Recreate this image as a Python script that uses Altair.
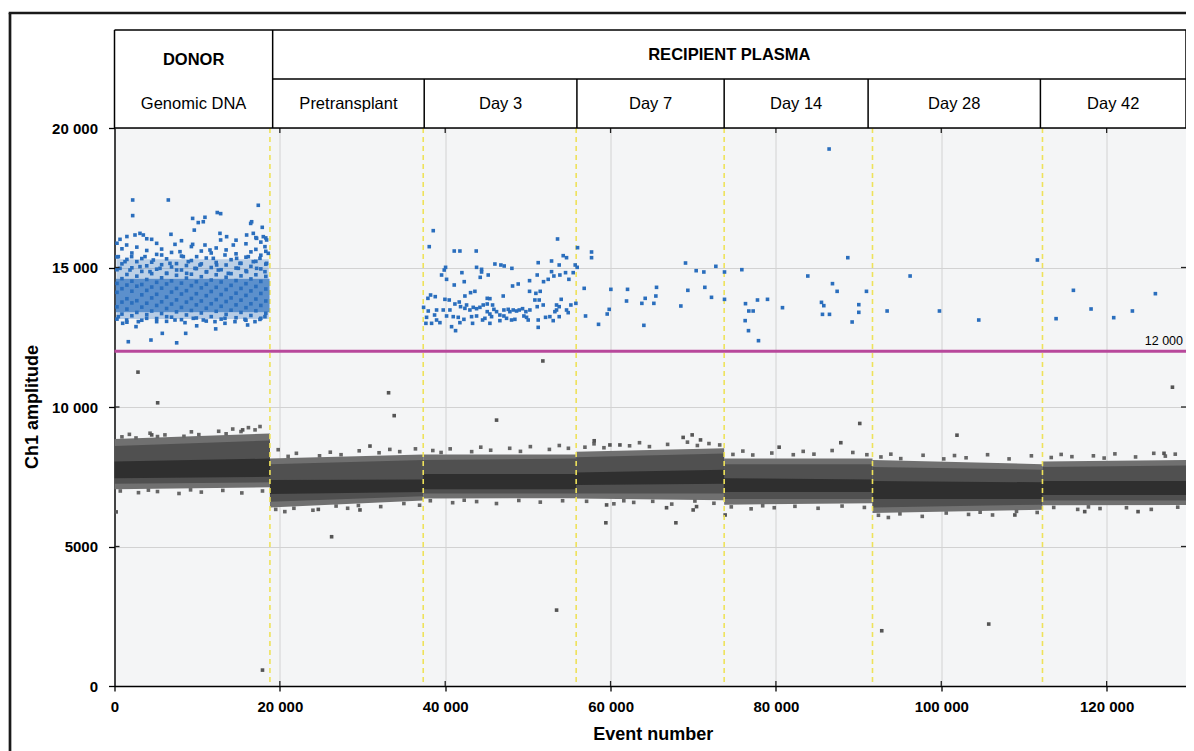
import altair as alt
import pandas as pd

FONT = "Liberation Sans"
W, H = 1071.5, 558
X_MAX = 129600

x_ticks = [0, 20000, 40000, 60000, 80000, 100000, 120000]
y_ticks = [0, 5000, 10000, 15000, 20000]

segment_names = ["Donor", "Pretransplant", "Day 3", "Day 7", "Day 14", "Day 28", "Day 42"]
segment_edges = [0, 18800, 37340, 55840, 73740, 91680, 112240, X_MAX]
header_edges = [0, 19130, 37460, 55930, 73740, 91150, 111990, X_MAX]
header_sub = ["Genomic DNA", "Pretransplant", "Day 3", "Day 7", "Day 14", "Day 28", "Day 42"]
header_top = ["DONOR", "RECIPIENT PLASMA"]

# negative-droplet band, per segment (value at segment start, value at segment end)
outer_lo = [(7050, 7120), (6400, 6650), (6720, 6730), (6720, 6660), (6500, 6550), (6200, 6320), (6480, 6490)]
mid_lo = [(7250, 7300), (6600, 6800), (6900, 6900), (6900, 6900), (6700, 6700), (6400, 6500), (6650, 6650)]
core_lo = [(7450, 7500), (6880, 6950), (7050, 7050), (7200, 7250), (6950, 6950), (6700, 6700), (6850, 6850)]
core_hi = [(8050, 8150), (7380, 7400), (7600, 7600), (7650, 7750), (7450, 7400), (7350, 7300), (7350, 7350)]
mid_hi = [(8600, 8800), (7950, 8100), (8100, 8150), (8200, 8330), (7950, 7950), (7850, 7750), (7850, 7900)]
outer_hi = [(8850, 9050), (8150, 8300), (8300, 8300), (8400, 8520), (8150, 8150), (8100, 7950), (8050, 8100)]

# ragged edge droplets just outside the band
edge_pts = [(900, 8930), (1800, 9020), (2600, 8890), (4300, 9060), (5200, 8940), (6100, 9000), (8400, 8950),
            (9300, 9110), (10200, 9010), (12600, 9130), (13500, 9040), (14300, 9210), (15300, 9120),
            (16200, 9260), (17000, 9180), (17600, 9300), (700, 6990), (2900, 6930), (4100, 7020),
            (5200, 6970), (7800, 6900), (9200, 7030), (10500, 6950), (13100, 7010), (15400, 6920),
            (17900, 6990),
            (19800, 8470), (21000, 8230), (22000, 8340), (24800, 8250), (26100, 8380), (27400, 8290),
            (29600, 8430), (32000, 8360), (33300, 8480), (34500, 8400), (36400, 8500), (19500, 6330),
            (20600, 6250), (21700, 6370), (24000, 6300), (26800, 6450), (28200, 6370), (29500, 6470),
            (32200, 6430), (35000, 6540), (36900, 6480),
            (38500, 8440), (39500, 8370), (40600, 8500), (43200, 8400), (44300, 8560), (45500, 8450),
            (47800, 8520), (49100, 8410), (50300, 8580), (52600, 8480), (53800, 8620), (54900, 8520),
            (38200, 6640), (40900, 6570), (42300, 6660), (43800, 6610), (46200, 6540), (48900, 6650),
            (51500, 6590), (54200, 6640),
            (56900, 8560), (58000, 8680), (59200, 8540), (62300, 8610), (63500, 8720), (64700, 8580),
            (66900, 8660), (69300, 8740), (70500, 8620), (71900, 8690), (73200, 8640), (57100, 6620),
            (60400, 6530), (61600, 6640), (62800, 6580), (65100, 6620), (67400, 6520), (70200, 6630),
            (72500, 6550),
            (74800, 8300), (76000, 8420), (77200, 8280), (79500, 8350), (82100, 8290), (83300, 8410),
            (84600, 8310), (86800, 8440), (89300, 8370), (91000, 8290), (74600, 6420), (77000, 6350),
            (78400, 6460), (79800, 6390), (82300, 6440), (85100, 6370), (88000, 6450), (90700, 6400),
            (92700, 8210), (93900, 8310), (95100, 8150), (97800, 8270), (100300, 8140), (101600, 8260),
            (103000, 8180), (105600, 8290), (108200, 8140), (110900, 8250), (92400, 6120), (93600, 6040),
            (95000, 6170), (97700, 6080), (100600, 6200), (103300, 6150), (104700, 6230), (106200, 6130),
            (109100, 6260), (111600, 6220),
            (113300, 8190), (114500, 8300), (115800, 8220), (118400, 8250), (119700, 8170), (121000, 8320),
            (123500, 8210), (125700, 8340), (127100, 8240), (128300, 8310), (113600, 6400), (116500, 6330),
            (117800, 6420), (119200, 6360), (122400, 6390), (125400, 6330), (128600, 6410)]

gray_pts = [(200, 6240), (5220, 10150), (2840, 11250), (33150, 10510), (33830, 9690), (30900, 8600),
            (26260, 5350), (46210, 9530), (51810, 11650), (59430, 5850), (67900, 5850), (90140, 9410),
            (101900, 8990), (127960, 10710), (53470, 2720), (17900, 570), (92800, 1980), (105740, 2220),
            (66770, 6390), (69990, 6310), (70400, 6430), (59520, 6490), (68780, 8910), (69870, 9000),
            (70880, 8820), (58020, 8790), (59920, 8640), (61130, 8640), (80390, 8560), (87850, 8720),
            (73860, 6130), (24650, 6330), (29690, 6310), (15500, 9180), (4500, 9000), (126940, 8340),
            (108900, 6130), (123800, 6250), (117350, 6250)]

# donor positive droplets: dense core / halo extents (x0, x1, lo, hi, opacity) and droplets
donor_core = [(150, 18750, 13400, 14600, 0.75), (250, 18650, 14600, 15300, 0.28),
              (250, 18650, 13150, 13400, 0.3)]
donor_columns = {
    300: [13150, 13590, 14110, 14430, 14920, 15380, 15870],
    900: [13330, 13760, 14240, 14600, 15130, 15670],
    1500: [13040, 13510, 13880, 14370, 14750, 15290, 16110],
    2100: [13270, 13730, 14150, 14510, 14990, 15520],
    2700: [13390, 13810, 14330, 14690, 15210, 15730],
    3300: [13110, 13580, 14020, 14390, 14860, 15320],
    3900: [13310, 13720, 14180, 14570, 15060, 15610, 16030],
    4500: [13440, 13910, 14300, 14780, 15190],
    5100: [13170, 13640, 14040, 14470, 14940, 15470],
    5700: [13350, 13770, 14260, 14630, 15100, 15660],
    6300: [13070, 13530, 13940, 14410, 14790, 15310],
    6900: [13220, 13690, 14120, 14520, 15020, 15540],
    7500: [13410, 13840, 14250, 14720, 15140],
    8100: [13130, 13570, 14050, 14440, 14910, 15410, 15960],
    8700: [13300, 13760, 14170, 14620, 15070],
    9300: [13460, 13890, 14350, 14760, 15250, 15750],
    9900: [13190, 13660, 14060, 14490, 14960],
    10500: [13370, 13800, 14270, 14670, 15130, 15590],
    11100: [13080, 13540, 13990, 14400, 14840, 15340],
    11700: [13240, 13700, 14140, 14550, 15000, 15520],
    12300: [13430, 13850, 14290, 14740, 15180, 15700],
    12900: [13150, 13610, 14030, 14480, 14920],
    13500: [13320, 13780, 14210, 14650, 15090, 15630],
    14100: [13470, 13910, 14360, 14780, 15280],
    14700: [13200, 13660, 14080, 14530, 14980, 15490, 15980],
    15300: [13390, 13830, 14250, 14700, 15150],
    15900: [13110, 13560, 14000, 14420, 14880, 15370, 15850],
    16500: [13280, 13700, 14160, 14590, 15040, 15560],
    17100: [13450, 13870, 14320, 14740, 15220, 15650, 16070],
    17700: [13180, 13640, 14070, 14500, 14950, 15440, 15910],
    18300: [13360, 13800, 14230, 14680, 15120, 15580, 16060],
}
donor_pts = [(2200, 17420), (6510, 17420), (2200, 16860), (17390, 17230), (12430, 16970), (12840, 16930),
             (9450, 16760), (10130, 16610), (10940, 16800), (10740, 16640), (16590, 16640), (16470, 16580),
             (17870, 16440), (6830, 16190), (9650, 16340),
             (1670, 12340), (4410, 12400), (7520, 12300), (5780, 12640), (8610, 12640), (12240, 12800),
             (9940, 12910), (13360, 13000), (16100, 12940), (17590, 13140), (2600, 12880), (990, 13000),
             (665, 16010), (1471, 15806), (2479, 16165), (3083, 16224), (3486, 16165), (4494, 16010),
             (5099, 15866), (7316, 15830), (7920, 15567), (9452, 15830), (10943, 15806), (11548, 15627),
             (12757, 16224), (12838, 15986), (13563, 16105), (14369, 15806), (15982, 16165), (16787, 16224),
             (17191, 16045), (17997, 16105), (18400, 15986), (18198, 15747), (18601, 15508),
             (463, 15389), (1270, 15209), (2076, 15389), (3688, 15389), (4695, 15269), (5704, 15448),
             (6711, 15149), (8323, 15389), (8928, 15209), (9935, 15389), (10339, 15090), (11951, 15329),
             (12354, 15090), (13362, 15448), (14772, 15329), (15175, 15149), (16183, 15389), (16787, 15209),
             (17594, 15329), (18400, 15149), (665, 14970), (1874, 14910), (3083, 15030), (4293, 14851),
             (5502, 14970), (6308, 14791), (7517, 14910), (8727, 14791), (9734, 14970), (11145, 14851),
             (12555, 14910), (13764, 14791), (14974, 14970), (15982, 14851), (17191, 14970), (18198, 14851),
             (463, 13238), (1471, 13118), (2882, 13059), (3890, 13178), (5099, 13059), (6308, 13238),
             (7316, 13118), (8525, 13023), (9532, 13178), (10742, 13118), (12152, 13059), (13362, 13178),
             (14571, 13059), (15780, 13142), (16989, 13059), (18198, 13238)]

day3_pts = [(38553, 16320), (38069, 15747), (41092, 15591), (41778, 15591), (43752, 15591), (53587, 16022),
            (54272, 15424), (54675, 15352), (52862, 15233), (51249, 15173), (53789, 15090), (46010, 15125),
            (46735, 15090), (47138, 15054), (48065, 14970), (40044, 15006), (39883, 14910), (39561, 14731),
            (40165, 14576), (42019, 14815), (43793, 15006), (44398, 14934), (44398, 14839), (44236, 14648),
            (45203, 14731), (41092, 14373), (42301, 14492), (48146, 14337), (48831, 14409), (50202, 14528),
            (51128, 14731), (51894, 14492), (52458, 14576), (52862, 14851), (53144, 14695), (53869, 14731),
            (54554, 14815), (54958, 14576), (55481, 14815), (55723, 15090), (50202, 14146), (50967, 14074),
            (51491, 14146), (43067, 14098), (43591, 14146), (42382, 13978), (40487, 13835), (39964, 13859),
            (38795, 13955), (38231, 14014), (37908, 13895), (47017, 13978), (45083, 13895), (45405, 13883),
            (50846, 13835), (51370, 13835), (54030, 13859), (55200, 13656), (55804, 13715), (37385, 13572),
            (37948, 13441), (38956, 13477), (39762, 13477), (40568, 13477), (41173, 13692), (41697, 13763),
            (41858, 13596), (42382, 13536), (42584, 13656), (42987, 13477), (43389, 13572), (43793, 13524),
            (44196, 13572), (44599, 13656), (45083, 13692), (45728, 13656), (45889, 13500), (45083, 13417),
            (45405, 13333), (46211, 13417), (46614, 13297), (47098, 13477), (47622, 13500), (47823, 13417),
            (48226, 13477), (48630, 13441), (48952, 13477), (49355, 13524), (49758, 13417), (50242, 13477),
            (51128, 13596), (51854, 13656), (53466, 13656), (53789, 13596), (54675, 13477), (53466, 13477),
            (53265, 13417), (40165, 13262), (40971, 13238), (41576, 13214), (42261, 13142), (43188, 13238),
            (43793, 13262), (44519, 13118), (44801, 13178), (45607, 13238), (46614, 13095), (47098, 13262),
            (47420, 13178), (48025, 13118), (48428, 13142), (49516, 13262), (50040, 13118), (49839, 13214),
            (51249, 13118), (52136, 13214), (52660, 13238), (53063, 13095), (53789, 13238), (54877, 13381),
            (37747, 13214), (37666, 12999), (38352, 12999), (38956, 13118), (39359, 13023), (38714, 13297),
            (40770, 12879), (41253, 12736), (41778, 13023), (43309, 12999), (45405, 12999), (51249, 12855)]
day7_pts = [(55965, 15006), (56006, 15711), (57699, 15556), (57699, 15352), (56811, 14253), (60036, 14217),
            (62052, 14217), (61931, 13799), (56973, 13262), (58545, 12963), (59593, 13333), (59835, 13500),
            (63785, 13715), (64188, 13895), (65559, 14289), (65478, 13978), (65236, 13715), (64027, 12927),
            (68501, 13620), (69065, 15161), (69347, 14182), (70354, 14886), (71282, 14839), (71402, 14289),
            (72208, 13931), (72733, 15042), (73781, 14839), (73781, 13859)]
day14_pts = [(75877, 14922), (76320, 13704), (76723, 13441), (77247, 13441), (77771, 13835), (78981, 13859),
             (76280, 13095), (76683, 12736), (77892, 12377), (80794, 13560), (83857, 14695), (88694, 15352),
             (86840, 14421), (87404, 14146), (85510, 13751), (85792, 13632), (85631, 13321), (86478, 13321),
             (89218, 13047), (90024, 13668), (90024, 13393), (90952, 14146), (86433, 19247)]
day28_pts = [(93450, 13441), (96231, 14695), (99779, 13441), (104534, 13118), (111628, 15269)]
day42_pts = [(113885, 13166), (115981, 14182), (118117, 13513), (120858, 13202), (123116, 13441), (125897, 14062)]

threshold = 12000

BLUE = "#2a6ebd"
GRAY_PT = "#555555"
PT = 13

xs = alt.Scale(domain=[0, X_MAX], nice=False, zero=False)
ys = alt.Scale(domain=[0, 20000], nice=False, zero=False)
lab_expr = "datum.value >= 10000 ? replace(format(datum.value, ','), ',', ' ') : format(datum.value, 'd')"
xaxis = alt.Axis(values=x_ticks, grid=True, gridColor="#d2d2d2", gridWidth=1, domainColor="black",
                 domainWidth=1.3, tickColor="black", tickSize=5, tickWidth=1.3, labelFont=FONT,
                 labelFontSize=15, labelFontWeight="bold", labelColor="black", labelPadding=8,
                 labelExpr=lab_expr, labelFlush=False, labelOverlap=False, title=None)
yaxis = alt.Axis(values=y_ticks, grid=True, gridColor="#d2d2d2", gridWidth=1, domainColor="black",
                 domainWidth=1.3, tickColor="black", tickSize=6, tickWidth=1.3, labelFont=FONT,
                 labelFontSize=15, labelFontWeight="bold", labelColor="black", labelPadding=11,
                 labelExpr=lab_expr, labelFlush=False, labelOverlap=False, title=None)


def X(f):
    return alt.X(f, type="quantitative", scale=xs, axis=xaxis)


def Y(f):
    return alt.Y(f, type="quantitative", scale=ys, axis=yaxis)


rows = []
for i, s in enumerate(segment_names):
    for k in (0, 1):
        rows.append(dict(seg=s, x=segment_edges[i + k], olo=outer_lo[i][k], mlo=mid_lo[i][k],
                         clo=core_lo[i][k], chi=core_hi[i][k], mhi=mid_hi[i][k], ohi=outer_hi[i][k]))
band = pd.DataFrame(rows)

layers = []
for lo, hi, col in [("olo", "ohi", "#707070"), ("mlo", "mhi", "#505050"), ("clo", "chi", "#2f2f2f")]:
    layers.append(alt.Chart(band).mark_area(color=col, opacity=1, interpolate="linear").encode(
        x=X("x"), y=Y(lo), y2=alt.Y2(hi), detail="seg:N"))

edge_df = pd.DataFrame(edge_pts, columns=["ev", "amp"])
layers.append(alt.Chart(edge_df).mark_square(size=PT, color="#666666", opacity=1).encode(x=X("ev"), y=Y("amp")))
gray_df = pd.DataFrame(gray_pts, columns=["ev", "amp"])
layers.append(alt.Chart(gray_df).mark_square(size=PT, color=GRAY_PT, opacity=1).encode(x=X("ev"), y=Y("amp")))

# yellow dashed boundaries
bnd = pd.DataFrame({"b": segment_edges[1:-1]})
layers.append(alt.Chart(bnd).mark_rule(color="#eee25a", strokeWidth=1.6, strokeDash=[5, 4]).encode(
    x=X("b"), y=alt.value(0), y2=alt.value(H)))

# donor positive cluster
core_df = pd.DataFrame(donor_core, columns=["x0", "x1", "lo", "hi", "op"])
layers.append(alt.Chart(core_df).mark_rect(color=BLUE).encode(
    x=X("x0"), x2="x1", y=Y("lo"), y2="hi", opacity=alt.Opacity("op:Q", scale=None)))

col_pts = [(cx, a) for cx, amps in donor_columns.items() for a in amps]
blue_all = col_pts + donor_pts + day3_pts + day7_pts + day14_pts + day28_pts + day42_pts
blue_df = pd.DataFrame(blue_all, columns=["ev", "amp"])
layers.append(alt.Chart(blue_df).mark_square(size=PT, color=BLUE, opacity=1).encode(x=X("ev"), y=Y("amp")))

# threshold
thr = pd.DataFrame({"y": [threshold], "x0": [0], "x1": [X_MAX], "t": ["12 000"]})
layers.append(alt.Chart(thr).mark_rule(color="#b8489b", strokeWidth=3).encode(x=X("x0"), x2="x1", y=Y("y")))
layers.append(alt.Chart(thr).mark_text(font=FONT, fontSize=12.5, align="right", baseline="bottom",
                                       dy=-3, color="black").encode(
    x=alt.value(W - 3), y=Y("y"), text="t:N"))

# inner tick marks
xt = pd.DataFrame({"v": x_ticks[1:]})
yt = pd.DataFrame({"v": y_ticks[1:-1]})
layers.append(alt.Chart(xt).mark_rule(color="#222", strokeWidth=1.3).encode(x=X("v"), y=alt.value(0), y2=alt.value(5)))
layers.append(alt.Chart(xt).mark_rule(color="#222", strokeWidth=1.3).encode(x=X("v"), y=alt.value(H - 5), y2=alt.value(H)))
layers.append(alt.Chart(yt).mark_rule(color="#222", strokeWidth=1.3).encode(y=Y("v"), x=alt.value(0), x2=alt.value(5)))
layers.append(alt.Chart(yt).mark_rule(color="#222", strokeWidth=1.3).encode(y=Y("v"), x=alt.value(W - 5), x2=alt.value(W)))

# header table
HT, HM = -98, -49
hlines = pd.DataFrame({"x0": [0, header_edges[1], 0], "x1": [X_MAX, X_MAX, X_MAX]})
for yy, sub in [(HT, hlines.iloc[[0]]), (HM, hlines.iloc[[1]]), (0, hlines.iloc[[2]])]:
    layers.append(alt.Chart(sub).mark_rule(color="black", strokeWidth=1.5).encode(
        x=X("x0"), x2="x1", y=alt.value(yy)))
vfull = pd.DataFrame({"e": [header_edges[0], header_edges[1], header_edges[-1]]})
layers.append(alt.Chart(vfull).mark_rule(color="black", strokeWidth=1.5).encode(
    x=X("e"), y=alt.value(HT), y2=alt.value(0)))
vsub = pd.DataFrame({"e": header_edges[2:-1]})
layers.append(alt.Chart(vsub).mark_rule(color="black", strokeWidth=1.5).encode(
    x=X("e"), y=alt.value(HM), y2=alt.value(0)))

sub_df = pd.DataFrame({"t": header_sub,
                       "c": [(header_edges[i] + header_edges[i + 1]) / 2 for i in range(len(header_sub))]})
layers.append(alt.Chart(sub_df).mark_text(font=FONT, fontSize=16.5, color="black", baseline="middle").encode(
    x=X("c"), y=alt.value(-24), text="t:N"))
top_df = pd.DataFrame({"t": header_top, "c": [header_edges[1] / 2, (header_edges[1] + X_MAX) / 2],
                       "yy": [-68, -73]})
for i in range(2):
    layers.append(alt.Chart(top_df.iloc[[i]]).mark_text(font=FONT, fontSize=16.5, fontWeight="bold",
                                                       color="black", baseline="middle").encode(
        x=X("c"), y=alt.value(int(top_df.yy[i])), text="t:N"))

# axis titles
one = pd.DataFrame({"t": ["Event number"]})
layers.append(alt.Chart(one).mark_text(font=FONT, fontSize=18, fontWeight="bold", color="black",
                                       baseline="alphabetic").encode(
    x=alt.value(538.75), y=alt.value(612), text="t:N"))
two = pd.DataFrame({"t": ["Ch1 amplitude"]})
layers.append(alt.Chart(two).mark_text(font=FONT, fontSize=18, fontWeight="bold", color="black",
                                       baseline="alphabetic", angle=270).encode(
    x=alt.value(-76.5), y=alt.value(H / 2), text="t:N"))

# outer frame
fr = pd.DataFrame({"k": [0]})
layers.append(alt.Chart(fr).mark_rule(color="#1a1a1a", strokeWidth=2.7).encode(
    x=alt.value(-104.5), y=alt.value(-115), y2=alt.value(640)))
layers.append(alt.Chart(fr).mark_rule(color="#1a1a1a", strokeWidth=2.7).encode(
    x=alt.value(-105.8), x2=alt.value(1090), y=alt.value(-115)))

chart = alt.layer(*layers).properties(
    width=W, height=H,
    autosize=alt.AutoSizeParams(type="none"),
    padding={"left": 106.5, "top": 120, "right": 0, "bottom": 65},
).configure_view(fill="#f4f5f6", stroke="#666666", strokeWidth=1)

chart.save("out.html", embed_options={"renderer": "svg", "actions": False})
